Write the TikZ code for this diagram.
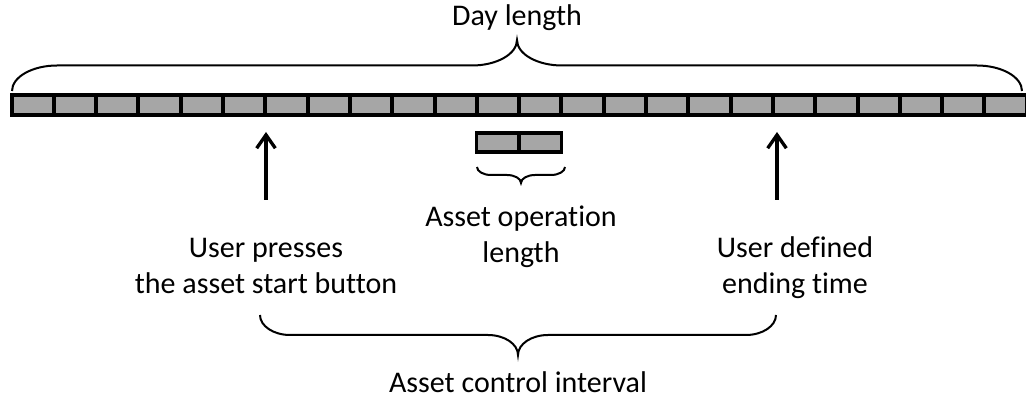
\documentclass[tikz,border=0pt]{standalone}
\usepackage{fontspec}
\setmainfont{Carlito}[Ligatures=NoCommon]
\usetikzlibrary{arrows.meta,calc}
\definecolor{cellgray}{HTML}{A6A6A6}
% curly brace between two named points: rise (negative = up), curve width
\newcommand{\spanbrace}[4]{%
  \coordinate (bm) at ($(#1)!0.5!(#2)$);
  \draw[span line] (#1)
    .. controls ([shift={(0,{0.55*(#3)})}]#1) and ([shift={({0.45*(#4)},#3)}]#1) .. ([shift={(#4,#3)}]#1)
    -- ([shift={({-(#4)},#3)}]bm)
    .. controls ([shift={({-0.45*(#4)},#3)}]bm) and ([shift={(0,{1.45*(#3)})}]bm) .. ([shift={(0,{2*(#3)})}]bm)
    .. controls ([shift={(0,{1.45*(#3)})}]bm) and ([shift={({0.45*(#4)},#3)}]bm) .. ([shift={(#4,#3)}]bm)
    -- ([shift={({-(#4)},#3)}]#2)
    .. controls ([shift={({-0.45*(#4)},#3)}]#2) and ([shift={(0,{0.55*(#3)})}]#2) .. (#2);
}
\begin{document}
\begin{tikzpicture}[x=0.75pt,y=-0.75pt]
        \tikzset{
        hour cell/.style={rectangle,draw,fill=cellgray,line width=3pt,minimum width=31.725pt,minimum height=15pt,inner sep=0,outer sep=0},
        op cell/.style={hour cell,line width=2.6pt,minimum height=14pt},
        note text/.style={align=center,font=\fontsize{22.5}{27}\selectfont,inner sep=0},
        mark arrow/.style={line width=2.5pt,-{Straight Barb[length=10pt,width=14pt]}},
        span line/.style={line width=1.5pt}
        }
        \useasboundingbox (0,0) rectangle (1026,402);
        % hours of the day
        \foreach \i in {0,...,23}
            \node[hour cell] (c\i) at (11.5+42.3*\i+21.15, 105) {};
        % operation block of two cells
        \node[op cell] (s0) at (497.85, 142.5) {};
        \node[op cell] (s1) at (540.15, 142.5) {};

        \node[note text,anchor=base] (day) at (517, 26) {Day length};
        \node[note text] (press) at (266, 266) {User presses\\the asset start button};
        \node[note text] (oper) at (521, 237) {Asset operation\\length};
        \node[note text] (ending) at (795, 268) {User defined\\ending time};
        \node[note text,anchor=base] (ctrl) at (518, 393) {Asset control interval};

        \coordinate (pressfoot) at (266, 200);
        \coordinate (presstip) at (266, 132);
        \coordinate (endfoot) at (777, 200);
        \coordinate (endtip) at (777, 132);
        \draw[mark arrow] (pressfoot) -- (presstip);
        \draw[mark arrow] (endfoot) -- (endtip);

        \coordinate (dayl) at (12, 91);
        \coordinate (dayr) at (1022, 91);
        \coordinate (opl) at (477, 167);
        \coordinate (opr) at (565, 167);
        \coordinate (ctrll) at (260, 315);
        \coordinate (ctrlr) at (776, 315);
        \spanbrace{dayl}{dayr}{-25.5}{45}
        \spanbrace{opl}{opr}{8}{14}
        \spanbrace{ctrll}{ctrlr}{20}{30}
    \end{tikzpicture}
\end{document}
